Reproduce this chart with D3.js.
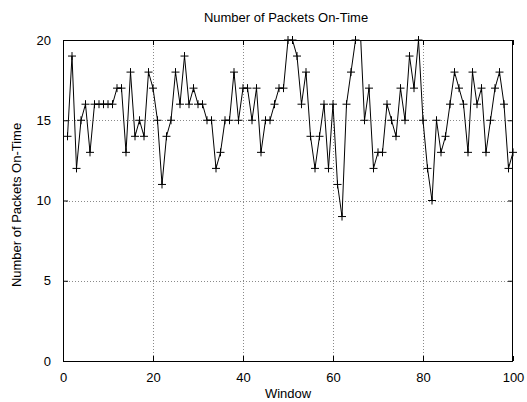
<!DOCTYPE html>
<html>
<head>
<meta charset="utf-8">
<script src="https://cdn.jsdelivr.net/npm/d3@7"></script>
<style>
  html, body { margin: 0; padding: 0; background: #fff; }
  svg { display: block; }
  text { font-family: "Liberation Sans", Arial, Helvetica, sans-serif; fill: #000; }
</style>
</head>
<body>
<div id="chart"></div>
<script>
// ---- data ----
const windows = d3.range(1, 101);
const onTime = [
  14, 19, 12, 15, 16, 13, 16, 16, 16, 16,
  16, 17, 17, 13, 18, 14, 15, 14, 18, 17,
  15, 11, 14, 15, 18, 16, 19, 16, 17, 16,
  16, 15, 15, 12, 13, 15, 15, 18, 15, 17,
  17, 15, 17, 13, 15, 15, 16, 17, 17, 20,
  20, 19, 16, 18, 14, 12, 14, 16, 12, 16,
  11, 9, 16, 18, 20, 21, 15, 17, 12, 13,
  13, 16, 15, 14, 17, 15, 19, 17, 20, 15,
  12, 10, 15, 13, 14, 16, 18, 17, 16, 13,
  18, 16, 17, 13, 15, 17, 18, 16, 12, 13
];
const xTicks = [0, 20, 40, 60, 80, 100];
const yTicks = [0, 5, 10, 15, 20];
const titleText = "Number of Packets On-Time";
const xLabel = "Window";
const yLabel = "Number of Packets On-Time";

// ---- layout ----
const W = 527, H = 402;
const mL = 63, mR = 513, mT = 40, mB = 361;
const fs = 13;

const svg = d3.select("#chart").append("svg")
  .attr("width", W).attr("height", H);

const x = d3.scaleLinear().domain([0, 100]).range([mL, mR]);
const y = d3.scaleLinear().domain([0, 20]).range([mB, mT]);

svg.append("defs").append("clipPath").attr("id", "plotclip")
  .append("rect").attr("x", mL).attr("y", mT)
  .attr("width", mR - mL).attr("height", mB - mT);

// grid
const grid = svg.append("g")
  .attr("stroke", "#8a8a8a").attr("stroke-width", 1)
  .attr("stroke-dasharray", "1,2").attr("shape-rendering", "crispEdges");
xTicks.filter(t => t > 0 && t < 100).forEach(t => {
  grid.append("line").attr("x1", Math.round(x(t)) + 0.5).attr("x2", Math.round(x(t)) + 0.5)
    .attr("y1", mT).attr("y2", mB);
});
yTicks.filter(t => t > 0 && t < 20).forEach(t => {
  grid.append("line").attr("y1", Math.round(y(t)) + 0.5).attr("y2", Math.round(y(t)) + 0.5)
    .attr("x1", mL).attr("x2", mR);
});

// axes (ticks inside, mirrored)
const tickLen = -5;
const axB = svg.append("g").attr("transform", `translate(0,${mB})`)
  .call(d3.axisBottom(x).tickValues(xTicks).tickSizeInner(tickLen).tickSizeOuter(0).tickPadding(12));
const axT = svg.append("g").attr("transform", `translate(0,${mT})`)
  .call(d3.axisTop(x).tickValues(xTicks).tickSizeInner(tickLen).tickSizeOuter(0).tickFormat(""));
const axL = svg.append("g").attr("transform", `translate(${mL},0)`)
  .call(d3.axisLeft(y).tickValues(yTicks).tickSizeInner(tickLen).tickSizeOuter(0).tickPadding(12));
const axR = svg.append("g").attr("transform", `translate(${mR},0)`)
  .call(d3.axisRight(y).tickValues(yTicks).tickSizeInner(tickLen).tickSizeOuter(0).tickFormat(""));
[axB, axT, axL, axR].forEach(a => {
  a.select(".domain").remove();
  a.selectAll("line").attr("stroke", "#000");
  a.selectAll("text").attr("font-size", fs).attr("font-family", "Liberation Sans, Arial, sans-serif").attr("fill", "#000");
});

// border
svg.append("rect").attr("x", mL + 0.5).attr("y", mT + 0.5)
  .attr("width", mR - mL - 1).attr("height", mB - mT)
  .attr("fill", "none").attr("stroke", "#000").attr("stroke-width", 1);

// data
const pts = windows.map((w, i) => ({ w: w, v: onTime[i] }));
const line = d3.line().x(d => x(d.w)).y(d => y(d.v));
svg.append("path").datum(pts)
  .attr("clip-path", "url(#plotclip)")
  .attr("d", line).attr("fill", "none").attr("stroke", "#000").attr("stroke-width", 1);

const ms = 4;
svg.append("g").selectAll("path.pt").data(pts.filter(d => d.v <= 20)).join("path")
  .attr("class", "pt")
  .attr("d", d => {
    const cx = x(d.w), cy = y(d.v);
    return `M${cx - ms},${cy}H${cx + ms}M${cx},${cy - ms}V${cy + ms}`;
  })
  .attr("stroke", "#000").attr("stroke-width", 1).attr("fill", "none");

// labels
svg.append("text").attr("x", 286).attr("y", 22)
  .attr("text-anchor", "middle").attr("font-size", fs).text(titleText);
svg.append("text").attr("x", 288).attr("y", 398)
  .attr("text-anchor", "middle").attr("font-size", fs).text(xLabel);
svg.append("text").attr("transform", `translate(21,205) rotate(-90)`)
  .attr("text-anchor", "middle").attr("font-size", fs).text(yLabel);
</script>
</body>
</html>
